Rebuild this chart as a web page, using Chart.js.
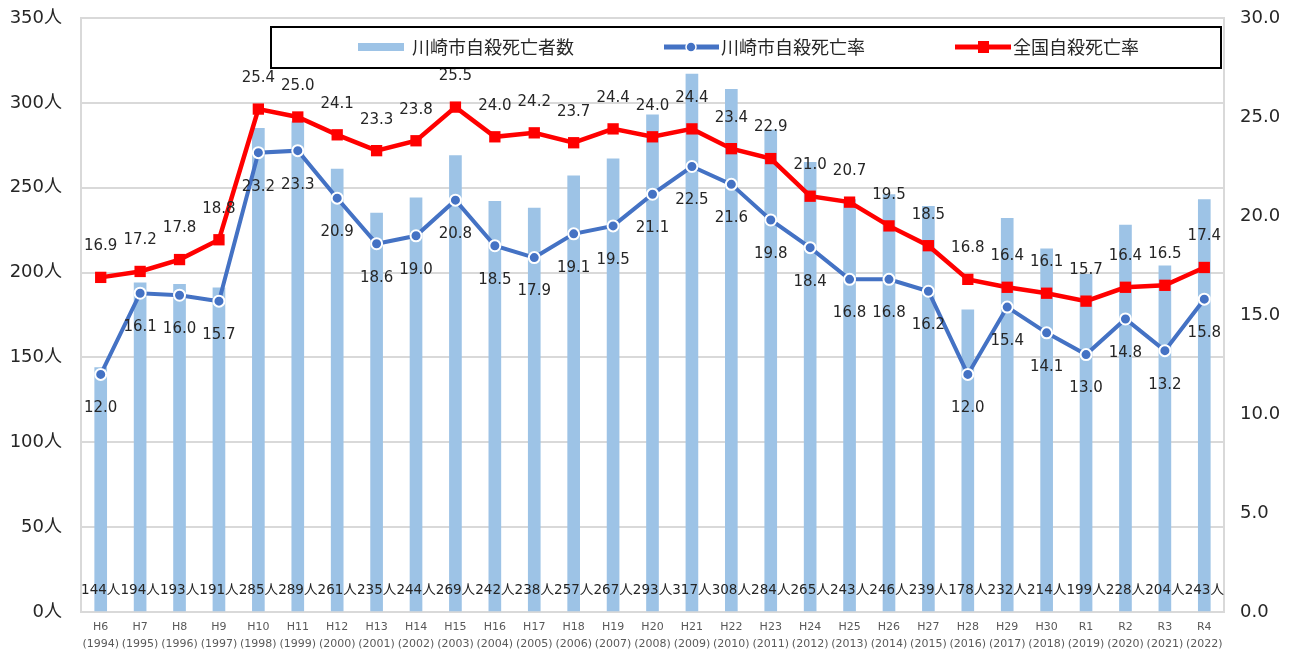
<!DOCTYPE html>
<html lang="ja">
<head>
<meta charset="utf-8">
<script src="https://cdn.jsdelivr.net/npm/chart.js@4.4.1/dist/chart.umd.min.js"></script>
<style>
  html, body { margin: 0; padding: 0; background: #fff; }
  #wrap { width: 1297px; height: 653px; }
</style>
</head>
<body>
<div id="wrap"><canvas id="suicideChart" width="1297" height="653"></canvas></div>
<script>
const eraLabels = ['H6', 'H7', 'H8', 'H9', 'H10', 'H11', 'H12', 'H13', 'H14', 'H15', 'H16', 'H17', 'H18', 'H19', 'H20',
    'H21', 'H22', 'H23', 'H24', 'H25', 'H26', 'H27', 'H28', 'H29', 'H30', 'R1', 'R2', 'R3', 'R4'];
const yearLabels = ['1994', '1995', '1996', '1997', '1998', '1999', '2000', '2001', '2002', '2003', '2004', '2005', '2006', '2007', '2008',
    '2009', '2010', '2011', '2012', '2013', '2014', '2015', '2016', '2017', '2018', '2019', '2020', '2021', '2022'];

// 川崎市自殺死亡者数 (人)
const kawasakiDeaths = [144, 194, 193, 191, 285, 289, 261, 235, 244, 269, 242, 238, 257, 267, 293,
    317, 308, 284, 265, 243, 246, 239, 178, 232, 214, 199, 228, 204, 243];
// 川崎市自殺死亡率
const kawasakiRate = [12.0, 16.1, 16.0, 15.7, 23.2, 23.3, 20.9, 18.6, 19.0, 20.8, 18.5, 17.9, 19.1, 19.5, 21.1,
    22.5, 21.6, 19.8, 18.4, 16.8, 16.8, 16.2, 12.0, 15.4, 14.1, 13.0, 14.8, 13.2, 15.8];
// 全国自殺死亡率
const nationalRate = [16.9, 17.2, 17.8, 18.8, 25.4, 25.0, 24.1, 23.3, 23.8, 25.5, 24.0, 24.2, 23.7, 24.4, 24.0,
    24.4, 23.4, 22.9, 21.0, 20.7, 19.5, 18.5, 16.8, 16.4, 16.1, 15.7, 16.4, 16.5, 17.4];

const countTicks = [0, 50, 100, 150, 200, 250, 300, 350];
const rateTicks = [0, 5, 10, 15, 20, 25, 30];

const seriesNames = ['川崎市自殺死亡者数', '川崎市自殺死亡率', '全国自殺死亡率'];

const BAR_COLOR = '#9DC3E6';
const BLUE = '#4472C4';
const RED = '#FF0000';
const TEXT = '#262626';
const NUM_FONT = '"DejaVu Sans", "Noto Sans CJK JP", sans-serif';
const JP_FONT = '"Noto Sans CJK JP", sans-serif';

// value labels: counts along the base, rates below/above their points
const valueLabels = {
    id: 'valueLabels',
    afterDatasetsDraw(chart) {
        const ctx = chart.ctx;
        const area = chart.chartArea;
        ctx.save();
        ctx.textAlign = 'center';
        ctx.textBaseline = 'middle';
        ctx.fillStyle = TEXT;

        ctx.font = '13.5px ' + NUM_FONT;
        chart.getDatasetMeta(0).data.forEach((bar, i) => {
            ctx.fillText(kawasakiDeaths[i] + '人', bar.x, area.bottom - 22);
        });

        ctx.font = '15px ' + NUM_FONT;
        chart.getDatasetMeta(1).data.forEach((pt, i) => {
            ctx.fillText(kawasakiRate[i].toFixed(1), pt.x, pt.y + 34);
        });
        chart.getDatasetMeta(2).data.forEach((pt, i) => {
            ctx.fillText(nationalRate[i].toFixed(1), pt.x, pt.y - 31);
        });
        ctx.restore();
    }
};

// boxed legend drawn over the top of the plot
const boxLegend = {
    id: 'boxLegend',
    afterDraw(chart) {
        const ctx = chart.ctx;
        ctx.save();
        ctx.fillStyle = '#fff';
        ctx.fillRect(271, 27, 950, 41);
        ctx.strokeStyle = '#000';
        ctx.lineWidth = 2;
        ctx.strokeRect(271, 27, 950, 41);

        const cy = 47;
        // bars
        ctx.fillStyle = BAR_COLOR;
        ctx.fillRect(358, cy - 4, 46, 8);
        // blue line + circle
        ctx.strokeStyle = BLUE;
        ctx.lineWidth = 5;
        ctx.beginPath(); ctx.moveTo(664, cy); ctx.lineTo(719, cy); ctx.stroke();
        ctx.fillStyle = BLUE;
        ctx.strokeStyle = '#fff';
        ctx.lineWidth = 1.5;
        ctx.beginPath(); ctx.arc(691, cy, 5, 0, Math.PI * 2); ctx.fill(); ctx.stroke();
        // red line + square
        ctx.strokeStyle = RED;
        ctx.lineWidth = 5;
        ctx.beginPath(); ctx.moveTo(955, cy); ctx.lineTo(1011, cy); ctx.stroke();
        ctx.fillStyle = RED;
        ctx.fillRect(978, cy - 6, 11, 12);

        ctx.fillStyle = TEXT;
        ctx.font = '18px ' + JP_FONT;
        ctx.textAlign = 'left';
        ctx.textBaseline = 'middle';
        ctx.fillText(seriesNames[0], 412, cy);
        ctx.fillText(seriesNames[1], 721, cy);
        ctx.fillText(seriesNames[2], 1013, cy);
        ctx.restore();
    }
};

const ctx = document.getElementById('suicideChart').getContext('2d');

new Chart(ctx, {
    data: {
        labels: eraLabels.map((era, i) => [era, '(' + yearLabels[i] + ')']),
        datasets: [
            {
                type: 'bar',
                label: seriesNames[0],
                data: kawasakiDeaths,
                backgroundColor: BAR_COLOR,
                borderWidth: 0,
                barThickness: 12,
                yAxisID: 'y',
                order: 3
            },
            {
                type: 'line',
                label: seriesNames[1],
                data: kawasakiRate,
                borderColor: BLUE,
                backgroundColor: BLUE,
                borderWidth: 4,
                pointStyle: 'circle',
                pointRadius: 5.5,
                pointBorderColor: '#fff',
                pointBorderWidth: 2,
                pointBackgroundColor: BLUE,
                tension: 0,
                yAxisID: 'y1',
                order: 2
            },
            {
                type: 'line',
                label: seriesNames[2],
                data: nationalRate,
                borderColor: RED,
                backgroundColor: RED,
                borderWidth: 4.5,
                pointStyle: 'rect',
                pointRadius: 8,
                pointBorderWidth: 0,
                pointBackgroundColor: RED,
                tension: 0,
                yAxisID: 'y1',
                order: 1
            }
        ]
    },
    options: {
        responsive: false,
        animation: false,
        devicePixelRatio: 1,
        layout: { padding: { top: 18, left: 0, right: 0, bottom: 0 } },
        plugins: {
            legend: { display: false },
            tooltip: { enabled: false }
        },
        scales: {
            x: {
                offset: true,
                grid: { display: false, drawTicks: false },
                border: { display: true, color: '#D9D9D9', width: 2 },
                ticks: {
                    color: '#595959',
                    font: { family: NUM_FONT, size: 11, lineHeight: 1.55 },
                    padding: 7,
                    maxRotation: 0,
                    autoSkip: false
                },
                afterFit(scale) {
                    scale.height = 41;
                    scale.paddingLeft = 0;
                    scale.paddingRight = 0;
                }
            },
            y: {
                type: 'linear',
                position: 'left',
                min: 0,
                max: 350,
                afterBuildTicks(scale) { scale.ticks = countTicks.map(v => ({ value: v })); },
                grid: { color: '#D9D9D9', lineWidth: 2, drawTicks: false },
                border: { display: true, color: '#D9D9D9', width: 2 },
                ticks: {
                    color: TEXT,
                    font: { family: NUM_FONT, size: 18 },
                    padding: 19,
                    callback: v => v + '人'
                },
                afterFit(scale) {
                    scale.width = 81;
                    scale.paddingTop = 0;
                    scale.paddingBottom = 0;
                }
            },
            y1: {
                type: 'linear',
                position: 'right',
                min: 0,
                max: 30,
                afterBuildTicks(scale) { scale.ticks = rateTicks.map(v => ({ value: v })); },
                grid: { drawOnChartArea: false, drawTicks: false },
                border: { display: true, color: '#D9D9D9', width: 2 },
                ticks: {
                    color: TEXT,
                    font: { family: NUM_FONT, size: 18 },
                    padding: 16,
                    callback: v => v.toFixed(1)
                },
                afterFit(scale) {
                    scale.width = 73;
                    scale.paddingTop = 0;
                    scale.paddingBottom = 0;
                }
            }
        }
    },
    plugins: [valueLabels, boxLegend]
});
</script>
</body>
</html>
